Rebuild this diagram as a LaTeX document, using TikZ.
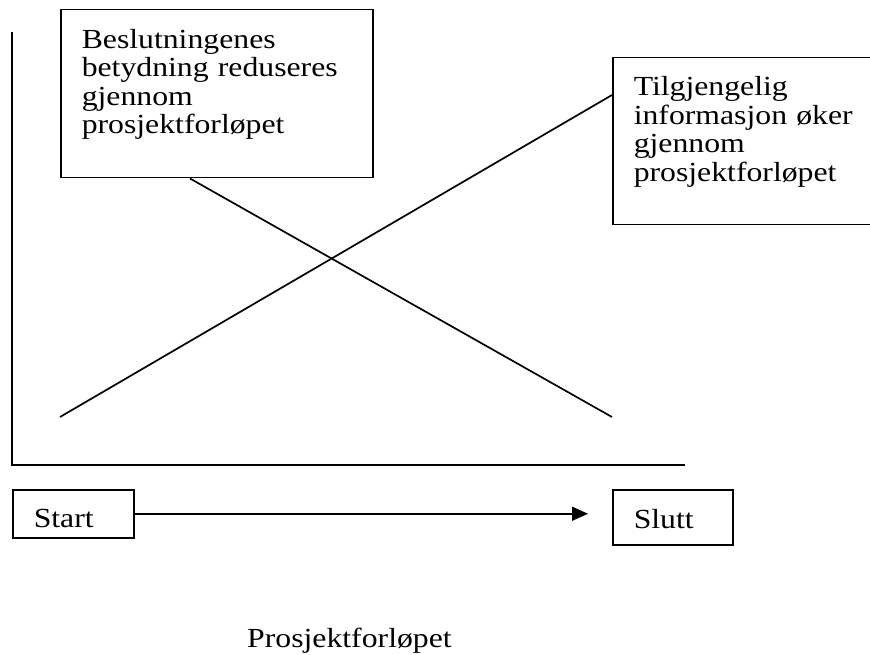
\documentclass[tikz,border=0pt]{standalone}
\usepackage{fontspec}
\setmainfont{Liberation Serif}[FakeStretch=1.15]
\usetikzlibrary{positioning}
\usetikzlibrary{arrows.meta,calc}

\begin{document}
\begin{tikzpicture}[
x=1pt, y=-1pt,
>={Triangle[length=16pt,width=14pt]},
txt/.style={font=\fontsize{27.6}{28.5}\selectfont},
note/.style={rectangle, draw, line width=1.5pt, txt, align=left, anchor=north west, inner xsep=21pt, inner ysep=0pt, text depth=110.5pt},
tag/.style={rectangle, draw, line width=1.5pt, txt, align=left, anchor=north west, inner xsep=21pt, inner ysep=0pt, text depth=0pt},
curve/.style={line width=1.7pt}]
\clip (0,0) rectangle (870,655);
% axes
\coordinate (ytop) at (12,32);
\coordinate (xend) at (685,465);
\draw [line width=2pt] (ytop) |- (xend);

\node [note, text width=270pt, minimum height=168pt] (beslut) at (60,9) {Beslutningenes\\betydning reduseres\\gjennom\\prosjektforløpet};
\node [note, text width=230pt, minimum height=167pt] (info) at (612,57) {Tilgjengelig\\informasjon øker\\gjennom\\prosjektforløpet};

\coordinate (decend) at (612,417);
\coordinate (incstart) at (60,417);
\draw [curve] ($(beslut.south west)+(130,0)$) -- (decend);
\draw [curve] (incstart) -- ($(info.north west)+(0,38)$);

\node [tag, text width=79pt, minimum height=48pt, text height=28pt] (start) at (12,489) {Start};
\node [tag, text width=78pt, minimum height=55pt, text height=23pt] (slutt) at (612,489) {Slutt};
\draw [->, line width=1.5pt, shorten >=24pt] (start) -- (start -| slutt.west);

\node [txt, anchor=base west, inner sep=0pt] (forlop) at (247,647) {Prosjektforløpet};
\end{tikzpicture}
\end{document}
